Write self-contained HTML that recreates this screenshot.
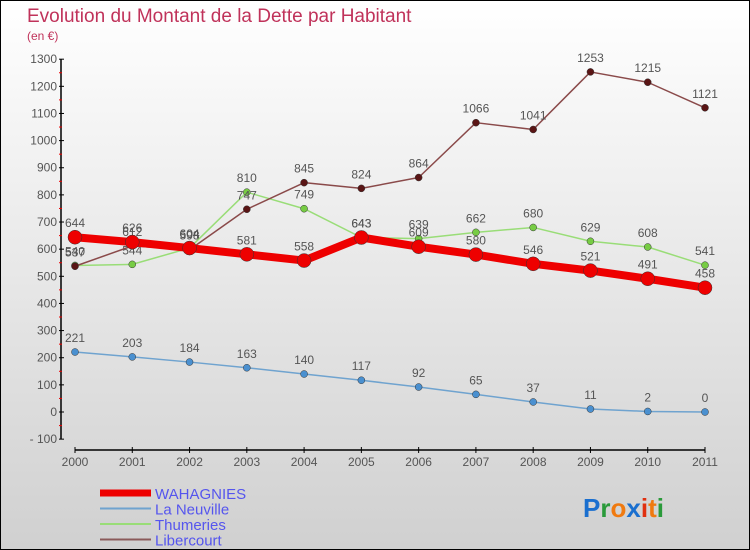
<!DOCTYPE html>
<html><head><meta charset="utf-8"><style>
body{margin:0;}
#c{width:750px;height:550px;position:relative;overflow:hidden;}
text{font-family:"Liberation Sans",sans-serif;}
</style></head><body>
<div id="c">
<svg id="s" width="750" height="550" xmlns="http://www.w3.org/2000/svg">
<defs><linearGradient id="bg" x1="0" y1="0" x2="0" y2="1"><stop offset="0" stop-color="#ffffff"/><stop offset="1" stop-color="#d0d0d0"/></linearGradient></defs>
<rect x="0.5" y="0.5" width="749" height="549" fill="url(#bg)" stroke="#000"/>
<text x="27" y="22" font-size="19" fill="#c0325a">Evolution du Montant de la Dette par Habitant</text>
<text x="27" y="40" font-size="12" fill="#c0325a">(en €)</text>
<g id="axes"></g><g id="series"></g><g id="legend"></g>
<text x="583" y="517" font-size="26" font-weight="bold"><tspan fill="#1a6fcf">P</tspan><tspan fill="#2a9a3a">r</tspan><tspan fill="#f07a10">o</tspan><tspan fill="#1a6fcf">x</tspan><tspan fill="#e03010">i</tspan><tspan fill="#f07a10">t</tspan><tspan fill="#2a9a3a">i</tspan></text>
</svg></div>
<script>
const years=[2000,2001,2002,2003,2004,2005,2006,2007,2008,2009,2010,2011];
const wahagnies=[644,626,604,581,558,643,609,580,546,521,491,458];
const laNeuville=[221,203,184,163,140,117,92,65,37,11,2,0];
const thumeries=[540,544,604,810,749,643,639,662,680,629,608,541];
const libercourt=[537,612,598,747,845,824,864,1066,1041,1253,1215,1121];
const yTicks=[1300,1200,1100,1000,900,800,700,600,500,400,300,200,100,0,-100];
const NS="http://www.w3.org/2000/svg";
const X=i=>75+i*(630/11);
const Y=v=>412-v*0.2714;
function mk(p,t,a){const e=document.createElementNS(NS,t);for(const k in a)e.setAttribute(k,a[k]);p.appendChild(e);return e;}
const ax=document.getElementById('axes');
let l=mk(ax,'line',{x1:61,y1:Y(1300),x2:61,y2:Y(-100),stroke:'#000','stroke-width':1.5});


l=mk(ax,'line',{x1:X(0),y1:450,x2:X(11),y2:450,stroke:'#000','stroke-width':1.5});


yTicks.forEach((v,i)=>{
  mk(ax,'line',{x1:59,y1:Y(v),x2:64,y2:Y(v),stroke:'#000'});
  if(i<yTicks.length-1) mk(ax,'line',{x1:59,y1:Y(v-50),x2:62,y2:Y(v-50),stroke:'#e00'});
  const t=mk(ax,'text',{x:57,y:Y(v)+4,'font-size':12,fill:'#555','text-anchor':'end'});
  t.textContent=v<0?'- '+(-v):v;
  
  
});
years.forEach((y,i)=>{
  mk(ax,'line',{x1:X(i),y1:447,x2:X(i),y2:453,stroke:'#000'});
  const t=mk(ax,'text',{x:X(i),y:466,'font-size':12,fill:'#555','text-anchor':'middle'});
  t.textContent=y;
  
  
});
const sg=document.getElementById('series');
function series(name,data,color,w,r,dot){
  const g=mk(sg,'g',{});
  
  
  mk(g,'polyline',{points:data.map((v,i)=>X(i)+','+Y(v)).join(' '),fill:'none',stroke:color,'stroke-width':w,'stroke-linejoin':'round'});
  data.forEach((v,i)=>{
    const c=mk(g,'circle',{cx:X(i),cy:Y(v),r:r,fill:dot,stroke:'#333','stroke-width':0.5});
    
    
    const t=mk(g,'text',{x:X(i),y:Y(v)-10,'font-size':12,fill:'#555','text-anchor':'middle'});
    t.textContent=v;
    
    
  });
}
series('la-neuville',laNeuville,'#6fa3cf',1.5,3.5,'#4a90d0');
series('thumeries',thumeries,'#99dd77',1.5,3.5,'#77cc44');
series('libercourt',libercourt,'#8a4a4a',1.5,3.5,'#5a1515');
series('wahagnies',wahagnies,'#ee0000',8,7,'#ee0000');
const lg=document.getElementById('legend');
const items=[['WAHAGNIES','#ee0000',7],['La Neuville','#6fa3cf',2],['Thumeries','#99dd77',2],['Libercourt','#8a5a5a',2]];
items.forEach((it,i)=>{
  const y=493+i*15.5;
  const g=mk(lg,'g',{});
  
  
  mk(g,'line',{x1:100,y1:y,x2:151,y2:y,stroke:it[1],'stroke-width':it[2]});
  const t=mk(g,'text',{x:155,y:y+6,'font-size':15,fill:'#5555ee'});
  t.textContent=it[0];
});
</script>
</body></html>
